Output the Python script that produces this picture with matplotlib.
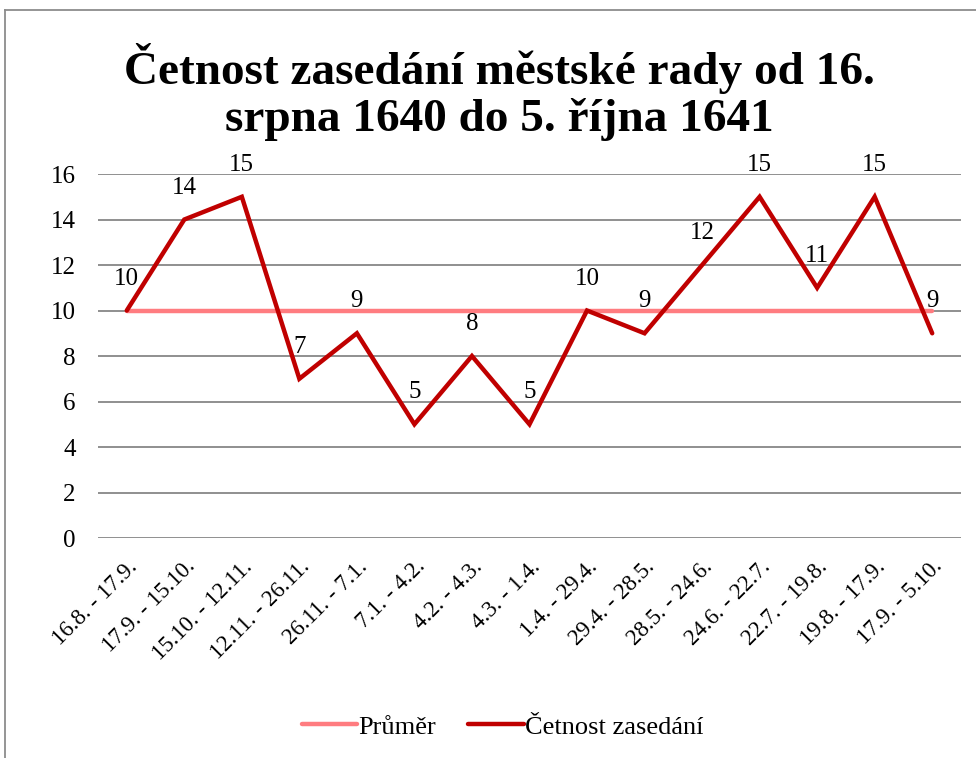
import matplotlib.pyplot as plt
from matplotlib.lines import Line2D

# Data
obdobi = ['16.8. - 17.9.', '17.9. - 15.10.', '15.10. - 12.11.', '12.11. - 26.11.',
          '26.11. - 7.1.', '7.1. - 4.2.', '4.2. - 4.3.', '4.3. - 1.4.',
          '1.4. - 29.4.', '29.4. - 28.5.', '28.5. - 24.6.', '24.6. - 22.7.',
          '22.7. - 19.8.', '19.8. - 17.9.', '17.9. - 5.10.']
cetnost = [10, 14, 15, 7, 9, 5, 8, 5, 10, 9, 12, 15, 11, 15, 9]
prumer = [10] * len(obdobi)

plt.rcParams['font.family'] = ['Liberation Serif', 'DejaVu Serif']

fig = plt.figure(figsize=(9.76, 7.58), dpi=100)
ax = fig.add_axes([0.1004, 0.2902, 0.8842, 0.4802])

x = list(range(len(obdobi)))
ax.plot(x, prumer, color='#FF7C80', lw=3.2, solid_capstyle='round', label='Průměr', zorder=3)
ax.plot(x, cetnost, color='#C00000', lw=3.2, solid_capstyle='round', solid_joinstyle='miter',
        label='Četnost zasedání', zorder=4)

# popisky hodnot
for xi, v in zip(x, cetnost):
    ax.annotate(str(v), (xi, v), xytext=(0, 23), textcoords='offset points',
                ha='center', va='center', fontsize=18, color='black', zorder=5)

ax.set_xlim(-0.5, len(obdobi) - 0.5)
ax.set_ylim(0, 16)
ax.set_yticks(range(0, 17, 2))
ax.yaxis.grid(True, color='#878787', lw=1.3)
ax.set_axisbelow(True)
for s in ax.spines.values():
    s.set_visible(False)
ax.tick_params(axis='y', length=0, pad=16, labelsize=18)
ax.tick_params(axis='x', length=0, pad=13, labelsize=16.5)
ax.set_xticks(x)
ax.set_xticklabels(obdobi, rotation=45, ha='right', va='top', rotation_mode='anchor')

fig.text(0.512, 0.879, 'Četnost zasedání městské rady od 16.\nsrpna 1640 do 5. října 1641',
         ha='center', va='center', fontsize=34, fontweight='bold', linespacing=1.12)

fig.legend(loc='center', bbox_to_anchor=(0.515, 0.041), ncol=2, frameon=False,
           fontsize=19, handlelength=2.1, handletextpad=0.05, columnspacing=1.2)

# rámeček grafu
fig.add_artist(Line2D([0.0051, 0.0051], [0, 0.987], color='#8c8c8c', lw=1.3, transform=fig.transFigure))
fig.add_artist(Line2D([0.0051, 1.0], [0.987, 0.987], color='#8c8c8c', lw=1.3, transform=fig.transFigure))

plt.savefig('out.png', dpi=100)
